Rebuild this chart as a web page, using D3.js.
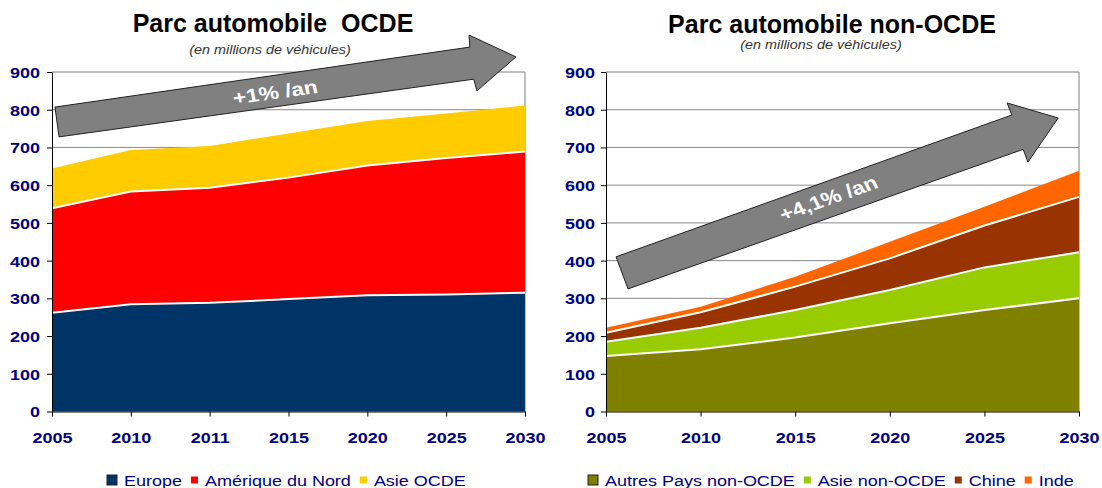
<!DOCTYPE html>
<html><head><meta charset="utf-8">
<script src="https://cdn.jsdelivr.net/npm/d3@7"></script>
<style>
body{margin:0;background:#fff}
svg{display:block;font-family:"Liberation Sans",Arial,sans-serif}
</style>
</head><body>
<svg id="c" width="1102" height="488"></svg>
<script>
// ---- data ----
const yearsOCDE = ["2005","2010","2011","2015","2020","2025","2030"];
const europe = [262,284,288,298,308,310,315];
const ameriqueNord = [277,299,305,322,344,362,374];
const asieOCDE = [105,110,111,117,118,118,122];

const yearsNonOCDE = ["2005","2010","2015","2020","2025","2030"];
const autresPays = [147,165,196,234,269,300];
const asieNonOCDE = [38,57,73,88,113,122];
const chine = [24,41,62,84,111,147];
const inde = [13,15,26,44,50,69];

const yTicks = [0,100,200,300,400,500,600,700,800,900];

// arrow annotations in (category index, value) space
const arrowOCDE = [[0.038,807],[5.30,966],[5.29,998],[5.886,940],[5.39,850],[5.35,881],[0.089,728]];
const arrowNonOCDE = [[0.106,410],[4.29,786],[4.24,818],[4.78,778],[4.46,661],[4.41,695],[0.233,325]];

const SX = 1.2; // horizontal stretch of the original chart picture
const navy = "#000080";
const svg = d3.select("#c");

function panel(cfg){
  const g = svg.append("g");
  const x = d3.scalePoint().domain(cfg.cats).range([cfg.x0, cfg.x1]);
  const xi = d3.scaleLinear().domain([0, cfg.cats.length-1]).range([cfg.x0, cfg.x1]);
  const y = d3.scaleLinear().domain([0,900]).range([411.5, 72]);

  // gridlines
  g.append("g").selectAll("line").data(yTicks.filter(t=>t>0 && t<900)).join("line")
    .attr("x1", cfg.x0).attr("x2", cfg.x1)
    .attr("y1", d=>y(d)).attr("y2", d=>y(d))
    .attr("stroke","#8a8a8a").attr("stroke-width",1);
  // frame top / right
  g.append("path")
    .attr("d", `M${cfg.x0},${y(900)}H${cfg.x1}V${y(0)}`)
    .attr("fill","none").attr("stroke","#808080").attr("stroke-width",1);

  // stacked areas
  const rows = cfg.cats.map((c,i)=>{const o={cat:c}; cfg.series.forEach(s=>o[s.name]=s.values[i]); return o;});
  const stack = d3.stack().keys(cfg.series.map(s=>s.name))(rows);
  const area = d3.area().x(d=>x(d.data.cat)).y0(d=>y(d[0])).y1(d=>y(d[1]));
  const line = d3.line().x(d=>x(d.data.cat)).y(d=>y(d[1]));
  g.append("g").selectAll("path").data(stack).join("path")
    .attr("d", area).attr("fill",(d,i)=>cfg.series[i].color);
  g.append("g").selectAll("path").data(stack.slice(0,-1)).join("path")
    .attr("d", line).attr("fill","none").attr("stroke","#fff").attr("stroke-width",2);

  // axes
  const ya = g.append("g").attr("transform",`translate(${cfg.x0},0)`)
    .call(d3.axisLeft(y).tickValues(yTicks).tickSize(5).tickSizeOuter(0).tickFormat(d3.format("d")));
  ya.select(".domain").attr("stroke","#000");
  ya.selectAll(".tick line").attr("stroke","#000");
  ya.selectAll(".tick text").attr("x",0).attr("dy","0.36em")
    .attr("transform",`translate(${cfg.ylabOff},0) scale(${SX},1)`)
    .attr("font-size",15).attr("font-weight","bold").attr("fill",navy)
    .attr("font-family",null);
  const xa = g.append("g").attr("transform",`translate(0,${y(0)})`)
    .call(d3.axisBottom(x).tickSize(5).tickSizeOuter(0));
  xa.select(".domain").attr("stroke","#000");
  xa.selectAll(".tick line").attr("stroke","#000");
  xa.selectAll(".tick text").attr("y",0).attr("dy","0.36em")
    .attr("transform",`translate(0,26) scale(${SX},1)`)
    .attr("font-size",15).attr("font-weight","bold").attr("fill",navy)
    .attr("font-family",null);

  // arrow
  g.append("path")
    .attr("d", d3.line().x(p=>xi(p[0])).y(p=>y(p[1]))(cfg.arrow)+"Z")
    .attr("fill","#808080").attr("stroke","#222").attr("stroke-width",1);
  const a0 = cfg.arrow[0], a1 = cfg.arrow[1], b0 = cfg.arrow[6], b1 = cfg.arrow[5];
  const slope = ((y(a1[1])-y(a0[1]))/(xi(a1[0])-xi(a0[0])) + (y(b1[1])-y(b0[1]))/(xi(b1[0])-xi(b0[0])))/2;
  const ang = Math.atan(slope*SX)*180/Math.PI;
  g.append("text")
    .attr("transform",`translate(${xi(cfg.arrowPos[0])},${y(cfg.arrowPos[1])}) scale(${SX},1) rotate(${ang})`)
    .attr("text-anchor","middle").attr("dy","0.36em")
    .attr("font-size",19).attr("font-weight","bold").attr("fill","#fff")
    .text(cfg.arrowText);

  // titles
  g.append("text").attr("x",cfg.titleX).attr("y",cfg.titleY).attr("text-anchor","middle")
    .attr("font-size",25).attr("font-weight","bold").attr("fill","#000")
    .style("white-space","pre").text(cfg.title);
  g.append("text").attr("transform",`translate(${cfg.subX},${cfg.subY}) scale(${SX},1)`)
    .attr("text-anchor","middle").attr("font-size",12).attr("font-style","italic").attr("fill","#333")
    .text("(en millions de véhicules)");

  // legend
  let lx = cfg.legX;
  const ly = 480;
  cfg.series.forEach((s,i)=>{
    const sz = i===0 ? 10 : 7;
    g.append("rect").attr("x",lx).attr("y",ly-sz/2).attr("width",sz).attr("height",sz)
      .attr("fill",s.color).attr("stroke", i===0 ? "#222" : "none").attr("stroke-width",1);
    lx += sz + 7;
    const t = g.append("text").attr("transform",`translate(${lx},${ly+5.5}) scale(${SX},1)`)
      .attr("font-size",15).attr("fill",navy).text(s.name);
    lx += t.node().getComputedTextLength()*SX + 9;
  });
}

panel({
  cats: yearsOCDE, x0: 52, x1: 525, ylabOff: -12,
  series: [
    {name:"Europe", values:europe, color:"#003366"},
    {name:"Amérique du Nord", values:ameriqueNord, color:"#ff0000"},
    {name:"Asie OCDE", values:asieOCDE, color:"#ffcc00"}
  ],
  arrow: arrowOCDE, arrowPos:[2.83,847], arrowText:"+1% /an",
  title:"Parc automobile  OCDE", titleX:273, titleY:32, subX:270, subY:53.5,
  legX:107
});
panel({
  cats: yearsNonOCDE, x0: 606, x1: 1079, ylabOff: -11,
  series: [
    {name:"Autres Pays non-OCDE", values:autresPays, color:"#808000"},
    {name:"Asie non-OCDE", values:asieNonOCDE, color:"#99cc00"},
    {name:"Chine", values:chine, color:"#993300"},
    {name:"Inde", values:inde, color:"#ff6600"}
  ],
  arrow: arrowNonOCDE, arrowPos:[2.35,566], arrowText:"+4,1% /an",
  title:"Parc automobile non-OCDE", titleX:832, titleY:33, subX:821, subY:48.5,
  legX:588
});
</script>
</body></html>
